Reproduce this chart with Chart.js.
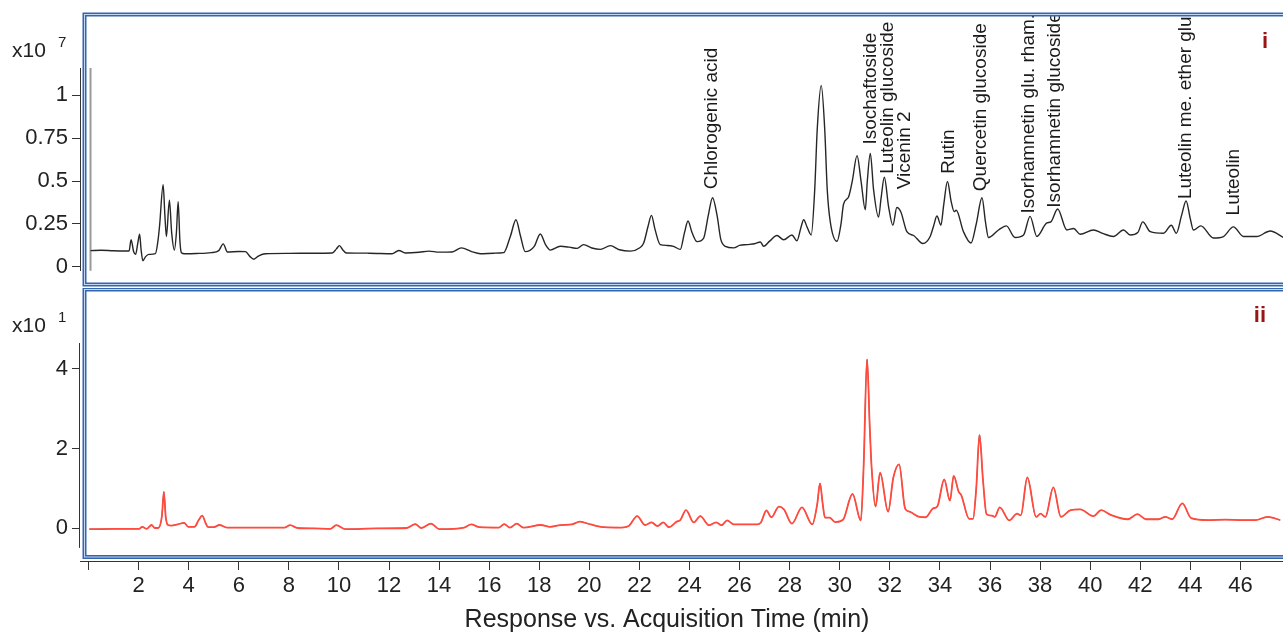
<!DOCTYPE html>
<html>
<head>
<meta charset="utf-8">
<script src="https://cdn.jsdelivr.net/npm/chart.js@4.4.1/dist/chart.umd.min.js"></script>
<style>
  html, body { margin: 0; padding: 0; background: #fff; }
  #wrap { position: relative; width: 1283px; height: 636px; overflow: hidden; }
  #topCanvas { position: absolute; left: 0; top: 0; }
  #bottomCanvas { position: absolute; left: 0; top: 288px; }
</style>
</head>
<body>
<div id="wrap">
  <canvas id="topCanvas" width="1283" height="288"></canvas>
  <canvas id="bottomCanvas" width="1283" height="348"></canvas>
</div>
<script>
// 上图 (i): TIC, 单位 x10^7
const topTime = [0.08, 0.5, 1.0, 1.5, 1.62, 1.70, 1.80, 1.88, 1.97, 2.04, 2.10, 2.17, 2.28, 2.41, 2.67, 2.78, 2.84, 2.98, 3.05, 3.11,
  3.23, 3.32, 3.43, 3.51, 3.58, 3.65, 3.71, 3.83, 4.3, 4.9, 5.2, 5.38, 5.55, 6.0, 6.27, 6.45, 6.6, 6.8, 7.07, 8.0,
  9.0, 9.73, 9.9, 10.02, 10.15, 10.3, 11.2, 12.12, 12.39, 12.65, 13.2, 13.59, 14.0, 14.52, 14.89, 15.3, 15.65, 16.2, 16.58, 16.85,
  17.07, 17.25, 17.44, 17.8, 18.04, 18.25, 18.44, 18.84, 19.2, 19.51, 19.77, 20.1, 20.44, 20.84, 21.2, 21.64, 22.0, 22.17, 22.35, 22.48,
  22.62, 22.83, 23.1, 23.36, 23.63, 23.8, 23.94, 24.1, 24.3, 24.56, 24.75, 24.92, 25.1, 25.25, 25.43, 25.76, 26.0, 26.3, 26.6, 26.83,
  26.96, 27.2, 27.49, 27.76, 28.09, 28.29, 28.45, 28.56, 28.7, 28.86, 29.0, 29.1, 29.26, 29.4, 29.5, 29.62, 29.89, 30.05, 30.15, 30.35,
  30.5, 30.69, 30.85, 31.02, 31.1, 31.22, 31.35, 31.55, 31.65, 31.78, 31.95, 32.12, 32.28, 32.44, 32.68, 32.95, 33.32, 33.61, 33.75, 33.88,
  34.04, 34.15, 34.3, 34.45, 34.57, 34.65, 34.94, 35.24, 35.45, 35.68, 35.82, 35.94, 36.34, 36.65, 37.0, 37.34, 37.6, 37.87, 38.27, 38.43,
  38.7, 39.07, 39.34, 39.6, 40.13, 40.5, 40.93, 41.33, 41.6, 41.9, 42.1, 42.4, 42.93, 43.24, 43.44, 43.65, 43.83, 44.0, 44.12, 44.42,
  44.92, 45.32, 45.72, 46.12, 46.65, 47.19, 47.72];
const topSignal = [0.095, 0.097, 0.094, 0.093, 0.093, 0.158, 0.09, 0.073, 0.14, 0.19, 0.1, 0.036, 0.06, 0.073, 0.077, 0.16, 0.243, 0.478, 0.3, 0.177,
  0.388, 0.2, 0.098, 0.2, 0.38, 0.15, 0.083, 0.077, 0.078, 0.083, 0.095, 0.134, 0.087, 0.09, 0.089, 0.06, 0.045, 0.065, 0.077, 0.079,
  0.08, 0.081, 0.105, 0.124, 0.1, 0.081, 0.08, 0.077, 0.096, 0.081, 0.085, 0.092, 0.086, 0.087, 0.111, 0.089, 0.077, 0.08, 0.083, 0.18,
  0.275, 0.18, 0.089, 0.12, 0.192, 0.13, 0.098, 0.12, 0.115, 0.108, 0.13, 0.11, 0.102, 0.124, 0.1, 0.092, 0.11, 0.139, 0.24, 0.30,
  0.22, 0.13, 0.125, 0.12, 0.102, 0.2, 0.267, 0.2, 0.147, 0.166, 0.3, 0.403, 0.3, 0.16, 0.12, 0.111, 0.125, 0.13, 0.135, 0.145,
  0.12, 0.15, 0.183, 0.158, 0.186, 0.152, 0.23, 0.275, 0.23, 0.186, 0.45, 0.8, 1.056, 0.8, 0.45, 0.264, 0.149, 0.25, 0.365, 0.407,
  0.5, 0.648, 0.5, 0.333, 0.5, 0.661, 0.45, 0.29, 0.4, 0.522, 0.35, 0.243, 0.346, 0.32, 0.205, 0.183, 0.136, 0.177, 0.24, 0.296,
  0.243, 0.36, 0.497, 0.38, 0.322, 0.33, 0.205, 0.139, 0.25, 0.403, 0.26, 0.171, 0.215, 0.239, 0.171, 0.186, 0.294, 0.177, 0.256, 0.262,
  0.337, 0.215, 0.224, 0.19, 0.215, 0.195, 0.177, 0.215, 0.186, 0.2, 0.262, 0.205, 0.196, 0.243, 0.196, 0.3, 0.384, 0.28, 0.215, 0.239,
  0.168, 0.177, 0.233, 0.177, 0.177, 0.209, 0.171];

// 起始标记线
const markerTime = [0.08, 0.08];
const markerSignal = [-0.03, 1.16];

// 峰标注
const peakNames = ['Chlorogenic acid', 'Isochaftoside', 'Luteolin glucoside', 'Vicenin 2', 'Rutin', 'Quercetin glucoside',
  'Isorhamnetin glu. rham.', 'Isorhamnetin glucoside', 'Luteolin me. ether glu.', 'Luteolin'];
const peakTimes = [24.87, 31.22, 31.92, 32.61, 34.35, 35.65, 37.56, 38.6, 43.83, 45.75];
const peakLabelBase = [0.452, 0.712, 0.542, 0.452, 0.542, 0.441, 0.311, 0.345, 0.395, 0.30];

// 下图 (ii): 单位 x10^1
const bottomTime = [0.03, 1.0, 2.02, 2.14, 2.32, 2.52, 2.65, 2.78, 2.93, 3.01, 3.08, 3.17, 3.3, 3.55, 3.82, 3.98, 4.23, 4.4, 4.54, 4.68,
  4.77, 4.99, 5.23, 5.53, 6.5, 7.82, 8.05, 8.35, 9.0, 9.66, 9.89, 10.27, 11.5, 12.71, 13.05, 13.29, 13.68, 14.01, 15.0, 15.28,
  15.62, 16.38, 16.6, 16.83, 17.1, 17.37, 18.06, 18.44, 18.83, 19.3, 19.62, 20.05, 20.58, 21.27, 21.57, 21.91, 22.22, 22.49, 22.72, 22.95,
  23.18, 23.49, 23.63, 23.86, 24.17, 24.43, 24.78, 25.06, 25.28, 25.5, 25.77, 26.69, 26.85, 27.07, 27.27, 27.57, 27.77, 28.09, 28.49, 28.9,
  29.1, 29.21, 29.32, 29.41, 29.59, 29.82, 30.12, 30.51, 30.84, 30.95, 31.09, 31.2, 31.27, 31.43, 31.61, 31.93, 32.14, 32.37, 32.61, 32.79,
  33.18, 33.43, 33.72, 33.9, 34.17, 34.4, 34.55, 34.75, 34.85, 35.17, 35.32, 35.45, 35.58, 35.72, 35.86, 36.08, 36.19, 36.39, 36.77, 37.08,
  37.23, 37.49, 37.84, 38.02, 38.21, 38.53, 38.83, 39.22, 39.6, 40.13, 40.44, 40.82, 41.5, 41.89, 42.22, 42.73, 43.0, 43.27, 43.68, 44.03,
  44.72, 45.4, 46.09, 46.6, 47.08, 47.59];
const bottomSignal = [-0.03, -0.02, -0.02, 0.03, -0.02, 0.075, 0.0, 0.0, 0.3, 0.91, 0.3, 0.075, 0.06, 0.09, 0.13, 0.03, 0.03, 0.2, 0.31, 0.12,
  0.02, 0.02, 0.075, 0.01, 0.01, 0.01, 0.07, 0.0, -0.01, -0.02, 0.07, -0.03, -0.01, 0.0, 0.1, 0.0, 0.11, -0.03, 0.01, 0.09,
  0.02, 0.01, 0.1, 0.01, 0.11, 0.01, 0.075, 0.03, 0.07, 0.09, 0.16, 0.09, 0.02, 0.01, 0.05, 0.3, 0.075, 0.14, 0.05, 0.14,
  0.02, 0.16, 0.2, 0.45, 0.14, 0.30, 0.07, 0.14, 0.07, 0.19, 0.09, 0.09, 0.14, 0.44, 0.27, 0.54, 0.47, 0.11, 0.52, 0.09,
  0.6, 1.12, 0.6, 0.26, 0.26, 0.15, 0.2, 0.855, 0.19, 1.5, 4.24, 2.5, 1.54, 0.54, 1.39, 0.41, 1.27, 1.6, 0.49, 0.41,
  0.28, 0.27, 0.49, 0.55, 1.22, 0.69, 1.31, 0.91, 0.83, 0.23, 0.23, 1.0, 2.34, 1.2, 0.35, 0.31, 0.28, 0.52, 0.19, 0.36,
  0.32, 1.27, 0.28, 0.36, 0.28, 1.02, 0.28, 0.45, 0.47, 0.3, 0.45, 0.33, 0.22, 0.35, 0.22, 0.22, 0.28, 0.22, 0.62, 0.25,
  0.2, 0.21, 0.2, 0.2, 0.28, 0.2];

// 刻度
const topTicks = [0, 0.25, 0.5, 0.75, 1];
const bottomTicks = [0, 2, 4];
const timeTicks = [0, 2, 4, 6, 8, 10, 12, 14, 16, 18, 20, 22, 24, 26, 28, 30, 32, 34, 36, 38, 40, 42, 44, 46];

const FONT = '"Liberation Sans", Arial, sans-serif';
const X_MIN = -0.34, X_MAX = 47.7;

function toPoints(xs, ys) {
  return xs.map((x, i) => ({ x: x, y: ys[i] }));
}

// 蓝色双线边框
function drawFrame(ctx, x0, y0, x1, y1) {
  ctx.save();
  ctx.strokeStyle = '#3466ae';
  ctx.lineWidth = 4;
  ctx.strokeRect(x0, y0, x1 - x0, y1 - y0);
  ctx.strokeStyle = 'rgba(205,222,245,0.95)';
  ctx.lineWidth = 1;
  ctx.strokeRect(x0, y0, x1 - x0, y1 - y0);
  ctx.restore();
}

function drawExponent(ctx, x, y, exp) {
  ctx.save();
  ctx.fillStyle = '#222';
  ctx.textAlign = 'left';
  ctx.textBaseline = 'alphabetic';
  ctx.font = '21px ' + FONT;
  ctx.fillText('x10', x, y);
  ctx.font = '15px ' + FONT;
  ctx.fillText(exp, x + 46, y - 10);
  ctx.restore();
}

function drawPanelTag(ctx, text, xRight, y) {
  ctx.save();
  ctx.fillStyle = '#9a1414';
  ctx.font = 'bold 22px ' + FONT;
  ctx.textAlign = 'right';
  ctx.textBaseline = 'alphabetic';
  ctx.fillText(text, xRight, y);
  ctx.restore();
}

const topDecor = {
  id: 'topDecor',
  afterDraw(chart) {
    const { ctx, chartArea, scales: { x, y } } = chart;
    ctx.save();
    ctx.beginPath();
    ctx.rect(0, 16, chart.width, chart.height);
    ctx.clip();
    ctx.font = '19px ' + FONT;
    ctx.fillStyle = '#1a1a1a';
    ctx.textAlign = 'left';
    ctx.textBaseline = 'middle';
    peakNames.forEach((name, i) => {
      ctx.save();
      ctx.translate(x.getPixelForValue(peakTimes[i]), y.getPixelForValue(peakLabelBase[i]));
      ctx.rotate(-Math.PI / 2);
      ctx.fillText(name, 0, 0);
      ctx.restore();
    });
    ctx.restore();

    drawExponent(ctx, 12, 57, '7');
    drawPanelTag(ctx, 'i', 1268, 48);
    drawFrame(ctx, chartArea.left + 4.5, 14.5, chart.width + 10, 284.5);
  }
};

const bottomDecor = {
  id: 'bottomDecor',
  afterDraw(chart) {
    const { ctx, chartArea, scales: { x, y } } = chart;
    // y 轴线 (不延伸到 x 轴)
    ctx.save();
    ctx.strokeStyle = '#333';
    ctx.lineWidth = 1;
    ctx.beginPath();
    ctx.moveTo(chartArea.left - 0.5, chartArea.top);
    ctx.lineTo(chartArea.left - 0.5, y.getPixelForValue(-0.5));
    ctx.stroke();
    ctx.restore();

    drawExponent(ctx, 12, 44, '1');
    drawPanelTag(ctx, 'ii', 1266, 34);
    drawFrame(ctx, chartArea.left + 4.5, 1.5, chart.width + 10, 269);

    ctx.save();
    ctx.fillStyle = '#222';
    ctx.font = '25px ' + FONT;
    ctx.textAlign = 'center';
    ctx.textBaseline = 'middle';
    ctx.fillText('Response vs. Acquisition Time (min)', 667, 332);
    ctx.restore();
  }
};

const tickFont = { family: FONT, size: 22 };

new Chart(document.getElementById('topCanvas'), {
  type: 'line',
  data: {
    datasets: [
      {
        data: toPoints(topTime, topSignal),
        borderColor: '#262626',
        borderWidth: 1.4,
        pointRadius: 0,
        cubicInterpolationMode: 'monotone',
        fill: false
      },
      {
        data: toPoints(markerTime, markerSignal),
        borderColor: '#9a9a9a',
        borderWidth: 2,
        pointRadius: 0,
        fill: false
      }
    ]
  },
  options: {
    responsive: false,
    animation: false,
    layout: { padding: { top: 68, bottom: 11, left: 0, right: 0 } },
    plugins: { legend: { display: false }, tooltip: { enabled: false } },
    scales: {
      x: { type: 'linear', min: X_MIN, max: X_MAX, display: false },
      y: {
        min: -0.0226,
        max: 1.158,
        afterFit: (scale) => { scale.width = 80; },
        afterBuildTicks: (scale) => { scale.ticks = topTicks.map(v => ({ value: v })); },
        ticks: { font: tickFont, color: '#222', padding: 4, callback: (v) => String(v) },
        grid: { drawOnChartArea: false, tickLength: 8, color: '#333' },
        border: { display: true, color: '#333', width: 1 }
      }
    }
  },
  plugins: [topDecor]
});

new Chart(document.getElementById('bottomCanvas'), {
  type: 'line',
  data: {
    datasets: [
      {
        data: toPoints(bottomTime, bottomSignal),
        borderColor: '#ff4a3d',
        borderWidth: 1.8,
        pointRadius: 0,
        cubicInterpolationMode: 'monotone',
        fill: false
      },
      {
        data: toPoints(bottomTime, bottomSignal),
        borderColor: 'rgba(80,40,40,0.8)',
        borderWidth: 0.8,
        pointRadius: 0,
        cubicInterpolationMode: 'monotone',
        fill: false
      }
    ]
  },
  options: {
    responsive: false,
    animation: false,
    layout: { padding: { top: 55, bottom: 0, left: 0, right: 0 } },
    plugins: { legend: { display: false }, tooltip: { enabled: false } },
    scales: {
      x: {
        type: 'linear',
        min: X_MIN,
        max: X_MAX,
        afterFit: (scale) => { scale.height = 75; },
        afterBuildTicks: (scale) => { scale.ticks = timeTicks.map(v => ({ value: v })); },
        ticks: {
          font: tickFont,
          color: '#222',
          padding: 3,
          maxRotation: 0,
          autoSkip: false,
          callback: (v) => (v === 0 ? '' : String(v))
        },
        grid: { drawOnChartArea: false, tickLength: 9, color: '#333' },
        border: { display: true, color: '#333', width: 1 }
      },
      y: {
        min: -0.83,
        max: 4.654,
        afterFit: (scale) => { scale.width = 80; },
        afterBuildTicks: (scale) => { scale.ticks = bottomTicks.map(v => ({ value: v })); },
        ticks: { font: tickFont, color: '#222', padding: 4 },
        grid: { drawOnChartArea: false, tickLength: 8, color: '#333' },
        border: { display: false }
      }
    }
  },
  plugins: [bottomDecor]
});
</script>
</body>
</html>
